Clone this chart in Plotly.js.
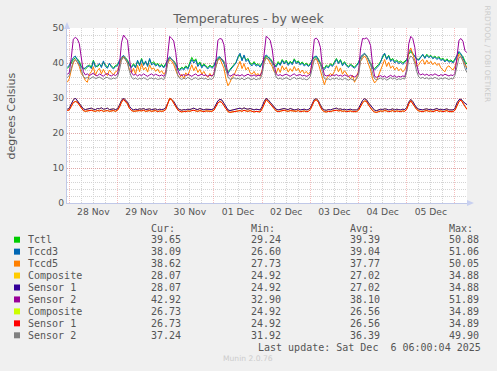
<!DOCTYPE html>
<html>
<head>
<meta charset="utf-8">
<script src="https://cdn.plot.ly/plotly-3.0.1.min.js"></script>
<style>
  html, body { margin: 0; padding: 0; background: #f0f0f0; }
  #chart { width: 497px; height: 371px; }
</style>
</head>
<body>
<div id="chart"></div>
<script>
// ---------- DATA (hourly samples, starting 2025-11-27 23:00) ----------
const startTime = '2025-11-27T23:00:00Z';

const tctl = [38.5,
  39.0,40.0,41.0,41.5,41.2,40.5,39.0,38.6,38.2,38.8,39.5,38.7,40.8,39.2,38.9,39.6,39.1,40.2,39.4,38.8,39.7,39.0,38.6,39.3,
  39.5,40.5,41.2,41.8,41.5,40.8,39.5,39.0,39.8,38.9,40.5,39.6,41.3,39.7,40.2,39.4,41.0,39.8,40.4,39.5,39.9,39.2,39.6,38.9,
  39.8,40.8,41.5,41.0,40.6,39.8,38.5,38.2,38.8,38.4,39.2,38.6,40.0,41.6,40.5,41.2,39.5,40.3,39.0,39.8,39.2,38.7,39.4,38.9,
  39.3,40.5,41.2,41.6,41.0,40.2,38.5,37.5,38.2,38.9,39.5,40.2,41.5,42.4,41.0,42.0,40.8,41.3,40.0,39.6,40.4,39.5,39.8,39.2,
  40.0,41.2,42.0,41.6,41.3,40.5,39.6,39.2,40.4,39.6,41.0,40.1,40.8,39.7,40.5,39.9,41.2,40.2,40.6,39.8,40.3,39.5,40.0,39.3,
  39.8,40.8,41.5,41.8,41.2,40.0,38.8,38.5,39.4,38.9,39.8,39.3,40.2,41.3,40.1,41.0,39.6,40.4,39.5,39.0,39.7,39.2,38.8,39.5,
  40.2,41.5,42.0,42.5,42.2,41.0,40.2,38.8,38.4,38.9,39.6,40.5,41.8,42.6,41.2,42.2,40.8,41.3,40.4,40.9,40.2,40.6,40.0,40.5,
  41.0,42.5,43.2,42.5,42.0,41.2,41.0,41.8,42.3,41.6,42.5,41.8,42.2,41.5,42.0,41.3,41.8,41.0,41.4,40.6,41.2,40.5,40.9,40.3,
  41.0,42.0,43.0,42.5,41.8,40.5,39.65];

const tccd3 = [38.8,
  39.3,40.5,41.5,42.0,41.0,40.2,38.8,38.3,38.6,39.2,39.0,38.4,40.5,38.8,39.3,39.9,38.7,40.6,39.0,38.5,40.0,38.8,38.3,39.0,
  39.2,40.8,41.5,42.2,41.2,40.5,39.2,38.7,39.5,38.6,40.8,39.2,41.0,39.3,40.6,39.0,41.3,39.4,40.0,39.1,39.6,38.8,39.3,38.6,
  39.5,41.0,41.8,41.2,40.3,39.5,38.2,37.8,38.5,38.0,38.9,38.2,39.6,41.0,40.0,40.8,39.0,39.9,38.6,39.5,38.8,38.3,39.1,38.5,
  39.0,40.8,41.6,41.8,40.8,40.0,38.0,37.0,37.9,38.5,39.2,40.0,41.8,42.8,40.6,42.3,40.4,41.0,39.6,39.2,40.0,39.1,39.5,38.8,
  39.8,41.5,42.3,41.8,41.0,40.2,39.3,38.9,40.0,39.3,40.7,39.7,40.5,39.3,40.2,39.5,40.9,39.8,40.3,39.4,40.0,39.1,39.7,39.0,
  39.5,41.0,41.8,42.0,41.0,39.7,38.5,38.1,39.0,38.6,39.5,39.0,39.9,41.0,39.8,40.7,39.2,40.1,39.2,38.7,39.4,38.9,38.5,39.2,
  40.0,41.8,42.3,42.8,42.0,40.7,39.8,38.4,38.0,38.6,39.2,40.2,42.0,42.8,41.0,42.0,40.4,41.0,40.0,40.6,39.8,40.2,39.6,40.1,
  40.8,42.8,43.6,42.8,41.7,41.0,40.8,41.5,42.5,41.3,42.2,41.5,42.0,41.2,41.7,41.0,41.5,40.7,41.1,40.3,40.9,40.2,40.5,40.0,
  40.8,42.2,43.3,42.6,41.5,40.0,38.09];

const tccd5 = [34.5,
  35.5,38.0,40.0,41.0,40.2,39.0,37.0,36.2,35.0,34.5,36.8,37.5,38.9,36.5,37.8,38.5,36.9,38.2,37.0,36.4,38.0,37.2,36.6,37.5,
  37.8,39.5,41.0,41.8,40.8,40.0,38.0,37.2,38.5,36.8,39.3,37.5,39.8,38.0,38.8,37.4,39.5,38.2,38.6,37.6,38.3,37.2,37.8,36.8,
  37.5,39.8,41.0,40.5,39.5,38.2,36.5,35.8,36.8,35.5,37.2,36.4,38.0,39.5,37.8,39.0,37.3,38.2,36.8,37.6,36.5,35.9,37.0,36.2,
  37.0,39.2,40.8,41.2,40.0,38.5,35.5,33.5,34.5,35.8,36.5,37.8,39.5,40.5,38.4,39.8,38.0,38.8,37.2,36.8,37.6,36.5,37.0,36.2,
  38.0,40.5,41.5,41.0,40.0,39.0,37.5,37.0,38.6,37.3,39.2,38.0,38.8,37.4,38.4,37.6,39.0,37.8,38.5,37.2,38.0,37.0,37.6,36.8,
  37.5,39.8,41.0,41.2,39.8,38.0,35.5,33.8,35.5,36.2,37.0,36.5,37.6,39.2,37.5,38.6,36.8,37.8,36.9,36.2,35.5,36.5,34.5,35.8,
  37.8,40.5,41.3,42.0,41.2,39.5,38.0,35.5,34.3,35.0,36.5,38.0,40.0,41.0,39.0,40.2,38.5,39.2,38.0,38.8,37.8,38.4,37.5,38.0,
  39.5,43.0,44.3,42.5,40.5,39.0,39.5,40.5,41.0,39.6,40.8,39.8,40.5,39.5,40.2,39.3,39.8,38.6,38.0,37.5,38.8,39.2,38.5,38.0,
  39.0,41.0,42.5,41.8,40.5,39.5,38.62];

// NVMe #1: Composite and Sensor 1 report identical values
const nvme1Sensor1 = [26.8,
  27.0,28.3,29.4,30.0,29.2,28.6,27.5,26.9,26.7,26.8,26.9,27.1,26.8,26.7,27.0,26.9,27.2,26.8,26.9,27.1,26.7,26.8,26.9,26.7,
  26.9,28.0,29.3,30.0,29.4,28.8,27.6,26.9,26.6,26.8,26.7,26.9,26.8,27.0,26.7,26.8,26.9,26.7,26.8,26.9,26.6,26.8,26.7,26.8,
  27.2,28.8,29.8,29.6,29.0,28.0,27.0,26.7,26.5,26.7,26.6,26.8,26.7,26.9,27.1,26.8,26.7,27.0,26.8,26.6,26.8,26.7,26.6,26.7,
  27.0,28.2,29.2,29.6,29.4,28.5,27.3,26.6,26.4,26.5,26.6,26.8,26.9,27.1,26.8,27.2,26.9,26.8,27.0,26.7,26.6,26.8,26.7,26.6,
  27.5,29.0,29.9,29.5,28.8,28.2,27.3,26.8,26.6,26.7,26.9,27.0,26.8,26.7,27.0,26.8,26.6,26.7,26.9,26.6,26.7,26.8,26.6,26.7,
  27.2,28.5,29.6,29.8,29.2,28.0,27.0,26.6,26.5,26.7,26.6,26.8,26.9,27.1,26.8,26.9,26.7,26.8,26.6,26.7,26.8,26.6,26.7,26.6,
  27.0,28.4,29.3,29.8,29.5,28.6,27.8,27.0,26.5,26.4,26.6,26.8,26.7,26.9,26.8,26.6,26.7,26.9,26.6,26.8,26.7,26.6,26.8,26.7,
  27.3,28.8,29.6,29.0,28.0,27.2,26.8,26.7,26.6,26.8,26.9,26.7,26.8,26.6,26.8,27.0,26.7,26.8,26.6,26.7,26.9,26.6,26.7,26.6,
  27.0,28.6,29.5,29.7,29.0,28.5,28.07];
const nvme1Composite = nvme1Sensor1;

const nvme1Sensor2 = [36.8,
  37.2,41.5,46.8,47.3,46.9,45.5,42.0,37.5,36.6,36.9,36.4,36.8,37.1,36.5,36.3,36.9,36.6,36.2,36.8,37.0,36.5,36.3,36.7,36.4,
  36.9,39.5,45.8,48.0,47.2,46.5,41.0,37.2,36.5,36.8,36.3,36.7,36.4,36.9,36.5,36.2,36.6,36.9,36.4,36.8,36.5,36.3,36.6,36.2,
  37.0,42.5,47.6,47.0,46.3,43.0,38.0,36.6,36.4,36.7,36.3,36.8,36.5,36.2,36.6,36.9,36.3,36.5,36.8,36.4,36.6,36.2,36.5,36.3,
  36.8,40.5,46.5,47.0,46.8,45.2,40.0,36.8,36.2,36.5,36.9,36.4,36.6,36.3,36.7,36.2,36.5,36.8,36.4,36.3,36.6,36.2,36.5,36.4,
  37.5,43.0,47.6,47.2,46.5,44.0,39.5,36.9,36.4,36.7,36.3,36.6,36.8,36.5,36.2,36.6,36.9,36.4,36.5,36.7,36.3,36.5,36.2,36.4,
  36.9,41.0,46.8,47.1,46.4,44.5,39.0,36.6,36.3,36.5,36.2,36.6,36.4,36.7,36.3,36.5,36.2,36.6,36.4,36.1,36.5,36.3,36.0,36.4,
  37.2,44.0,47.0,46.9,47.2,46.5,45.0,39.5,36.2,35.9,36.1,36.4,36.0,36.3,35.8,36.2,36.5,36.1,36.4,35.9,36.2,36.0,36.3,36.1,
  38.0,45.5,47.6,47.0,44.5,39.5,37.0,36.6,36.9,36.5,36.8,36.4,36.7,36.5,36.9,36.6,36.3,36.7,36.4,36.8,36.5,36.3,36.6,36.4,
  37.0,41.0,46.5,47.0,46.2,43.5,42.92];

// NVMe #2: Composite and Sensor 1 report identical values
const nvme2Sensor1 = [26.4,
  26.6,27.6,28.7,29.0,28.8,28.0,27.0,26.4,26.2,26.3,26.4,26.5,26.3,26.2,26.4,26.3,26.5,26.2,26.3,26.4,26.2,26.3,26.4,26.2,
  26.5,27.4,28.8,29.6,29.0,28.3,27.0,26.4,26.2,26.3,26.2,26.4,26.3,26.5,26.2,26.3,26.4,26.2,26.3,26.4,26.1,26.3,26.2,26.3,
  26.7,28.4,29.9,29.5,28.6,27.5,26.6,26.2,26.0,26.2,26.1,26.3,26.2,26.4,26.5,26.3,26.2,26.4,26.3,26.1,26.3,26.2,26.1,26.2,
  26.5,27.6,28.6,29.0,28.7,27.8,26.8,26.1,25.9,26.0,26.1,26.2,26.3,26.4,26.2,26.5,26.3,26.2,26.4,26.1,26.0,26.2,26.1,26.0,
  26.9,28.4,29.5,29.0,28.3,27.6,26.8,26.3,26.1,26.2,26.4,26.5,26.3,26.2,26.4,26.3,26.1,26.2,26.4,26.1,26.2,26.3,26.1,26.2,
  26.7,28.0,29.2,29.5,28.8,27.5,26.5,26.1,26.0,26.2,26.1,26.3,26.4,26.5,26.3,26.4,26.2,26.3,26.1,26.2,26.3,26.1,26.2,26.1,
  26.5,27.8,28.6,29.2,29.0,28.0,27.2,26.4,26.0,25.9,26.1,26.3,26.2,26.4,26.3,26.1,26.2,26.4,26.1,26.3,26.2,26.1,26.3,26.2,
  26.8,28.3,29.2,28.5,27.5,26.7,26.3,26.2,26.1,26.3,26.4,26.2,26.3,26.1,26.3,26.5,26.2,26.3,26.1,26.2,26.4,26.1,26.2,26.1,
  26.5,28.0,29.0,29.4,28.6,27.8,26.73];
const nvme2Composite = nvme2Sensor1;

const nvme2Sensor2 = [35.8,
  36.5,38.5,40.5,41.0,40.2,39.5,38.0,36.2,35.6,35.9,35.4,35.8,36.1,35.5,35.7,36.0,35.6,35.3,35.8,35.9,35.5,35.4,35.7,35.5,
  36.0,38.0,40.8,41.6,41.0,40.0,37.5,35.9,35.4,35.7,35.3,35.6,35.4,35.8,35.5,35.2,35.6,35.7,35.4,35.6,35.3,35.5,35.6,35.2,
  36.5,40.0,41.6,41.0,40.5,39.0,36.5,35.6,35.3,35.7,35.4,35.9,35.5,35.2,35.6,35.8,35.3,35.5,35.7,35.4,35.6,35.2,35.5,35.3,
  36.0,39.0,41.0,41.4,41.2,40.5,38.5,36.0,35.3,35.5,35.8,35.4,35.6,35.3,35.7,35.2,35.5,35.8,35.4,35.3,35.6,35.2,35.5,35.4,
  36.8,40.0,41.5,41.2,40.8,40.0,37.8,36.0,35.4,35.7,35.3,35.6,35.8,35.5,35.2,35.6,35.9,35.4,35.5,35.7,35.3,35.5,35.2,35.4,
  36.2,39.0,41.0,41.3,40.6,39.8,37.5,35.6,35.3,35.5,35.2,35.6,35.4,35.7,35.3,35.5,35.2,35.6,35.4,35.1,35.5,35.3,35.0,35.4,
  36.5,40.5,42.0,42.6,42.0,41.0,40.0,37.0,35.5,35.2,35.4,35.7,35.3,35.6,35.1,35.5,35.8,35.4,35.7,35.2,35.5,35.3,35.6,35.4,
  37.5,41.0,42.0,41.5,40.0,37.5,36.0,35.6,35.9,35.5,35.8,35.4,35.7,35.5,35.9,35.6,35.3,35.7,35.4,35.8,35.5,35.3,35.6,35.4,
  36.5,39.5,41.5,41.8,40.5,38.5,37.24];

// Legend table
const seriesNames  = ['Tctl','Tccd3','Tccd5','Composite','Sensor 1','Sensor 2','Composite','Sensor 1','Sensor 2'];
const seriesColors = ['#00CC00','#0066B3','#FF8000','#FFCC00','#330099','#990099','#CCFF00','#FF0000','#808080'];
const seriesData   = [tctl, tccd3, tccd5, nvme1Composite, nvme1Sensor1, nvme1Sensor2, nvme2Composite, nvme2Sensor1, nvme2Sensor2];
const curVals = ['39.65','38.09','38.62','28.07','28.07','42.92','26.73','26.73','37.24'];
const minVals = ['29.24','26.60','27.73','24.92','24.92','32.90','24.92','24.92','31.92'];
const avgVals = ['39.39','39.04','37.77','27.02','27.02','38.10','26.56','26.56','36.39'];
const maxVals = ['50.88','51.06','50.05','34.88','34.88','51.89','34.89','34.89','49.90'];
const colHeaders = ['Cur:','Min:','Avg:','Max:'];

const chartTitle = 'Temperatures - by week';
const yTitle = 'degrees Celsius';
const lastUpdate = 'Last update: Sat Dec\u00a0\u00a06 06:00:04 2025';
const yTickVals = [0,10,20,30,40,50];

// ---------- BUILD ----------
function pad(n){ return String(n).padStart(2,'0'); }
const t0 = Date.parse(startTime);
const times = tctl.map((_, i) => {
  const d = new Date(t0 + i * 3600e3);
  return d.getUTCFullYear() + '-' + pad(d.getUTCMonth()+1) + '-' + pad(d.getUTCDate()) + ' ' + pad(d.getUTCHours()) + ':00';
});

const traces = seriesData.map((arr, i) => ({
  type: 'scatter', mode: 'lines', x: times, y: arr, name: seriesNames[i],
  line: { color: seriesColors[i], width: 1 }, hoverinfo: 'skip'
}));

// pixel geometry of the plot area
const L = 67, R = 467, T = 28, B = 203;
const W = R - L, H = B - T;
const xp = px => (px - L) / W;
const yp = py => (B - py) / H;

const txtColor = '#555555';
const mono = 'DejaVu Sans Mono, monospace';
const annotations = [];
const shapes = [];

// y axis title
annotations.push({ xref:'paper', yref:'paper', x: xp(11), y: yp(115.5), text: yTitle, showarrow:false,
  textangle: -90, xanchor:'center', yanchor:'middle', font:{ family:'DejaVu Sans', size:11, color:txtColor } });
// side credit
annotations.push({ xref:'paper', yref:'paper', x: xp(487), y: yp(53.5), text: 'RRDTOOL / TOBI OETIKER', showarrow:false,
  textangle: 90, xanchor:'center', yanchor:'middle', font:{ family:'DejaVu Sans', size:7.5, color:'#cccccc' } });

// legend table
const colX = [149, 249, 348, 447];
colHeaders.forEach((h, j) => annotations.push({ xref:'paper', yref:'paper', x: xp(colX[j]), y: yp(228), text: h,
  showarrow:false, xanchor:'left', yanchor:'middle', font:{ family:mono, size:10, color:txtColor } }));
seriesNames.forEach((nm, i) => {
  const yc = 239.7 + 11.95 * i;
  shapes.push({ type:'rect', xref:'paper', yref:'paper', x0: xp(14), x1: xp(20), y0: yp(yc+3), y1: yp(yc-3),
    fillcolor: seriesColors[i], line:{ width:0 } });
  annotations.push({ xref:'paper', yref:'paper', x: xp(26), y: yp(yc), text: nm, showarrow:false,
    xanchor:'left', yanchor:'middle', font:{ family:mono, size:10, color:txtColor } });
  [curVals, minVals, avgVals, maxVals].forEach((col, j) => annotations.push({ xref:'paper', yref:'paper',
    x: xp(colX[j]), y: yp(yc), text: col[i], showarrow:false, xanchor:'left', yanchor:'middle',
    font:{ family:mono, size:10, color:txtColor } }));
});
annotations.push({ xref:'paper', yref:'paper', x: xp(483), y: yp(347.7), text: lastUpdate, showarrow:false,
  xanchor:'right', yanchor:'middle', font:{ family:mono, size:10, color:txtColor } });
annotations.push({ xref:'paper', yref:'paper', x: xp(248), y: yp(358.3), text: 'Munin 2.0.76', showarrow:false,
  xanchor:'center', yanchor:'middle', font:{ family:'DejaVu Sans', size:7.6, color:'#cccccc' } });

// axis arrows
const arrowCol = '#c8d0f0';
shapes.push({ type:'path', xref:'paper', yref:'paper', layer:'above',
  path: `M ${xp(64)} ${yp(29)} L ${xp(70)} ${yp(29)} L ${xp(67)} ${yp(22)} Z`, fillcolor: arrowCol, line:{ width:0 } });
shapes.push({ type:'path', xref:'paper', yref:'paper', layer:'above',
  path: `M ${xp(467)} ${yp(200)} L ${xp(467)} ${yp(206)} L ${xp(474)} ${yp(203)} Z`, fillcolor: arrowCol, line:{ width:0 } });

const majorGrid = 'rgba(235,110,110,0.45)';
const minorGrid = '#d4d4d4';

const layout = {
  width: 497, height: 371,
  margin: { l: L, r: 497 - R, t: T, b: 371 - B, pad: 0 },
  paper_bgcolor: '#f0f0f0', plot_bgcolor: '#ffffff',
  showlegend: false, hovermode: false,
  title: { text: chartTitle, x: 0.5, xref: 'container', xanchor: 'center', y: 1 - 19/371, yref: 'container', yanchor: 'middle',
    font: { family: 'DejaVu Sans', size: 12.5, color: '#606060' } },
  xaxis: {
    type: 'date', range: ['2025-11-27 22:52', '2025-12-06 06:00'],
    tick0: '2025-11-28 00:00', dtick: 86400000, ticklabelmode: 'period', tickformat: '%d %b',
    showgrid: true, gridcolor: majorGrid, griddash: '1px,1px', gridwidth: 1,
    minor: { dtick: 6*3600000, tick0: '2025-11-28 00:00', showgrid: true, gridcolor: minorGrid, griddash: '1px,1px', gridwidth: 1 },
    ticks: '', showline: true, linecolor: '#c0c8e8', linewidth: 1, zeroline: false,
    tickfont: { family: 'DejaVu Sans', size: 9.2, color: txtColor }, fixedrange: true
  },
  yaxis: {
    range: [0, 50], tickvals: yTickVals, ticktext: yTickVals.map(String),
    showgrid: true, gridcolor: majorGrid, griddash: '1px,1px', gridwidth: 1,
    minor: { dtick: 2, showgrid: true, gridcolor: minorGrid, griddash: '1px,1px', gridwidth: 1 },
    ticks: '', showline: true, linecolor: '#c0c8e8', linewidth: 1, zeroline: false,
    tickfont: { family: 'DejaVu Sans', size: 9.2, color: txtColor }, fixedrange: true
  },
  annotations: annotations,
  shapes: shapes
};

Plotly.newPlot('chart', traces, layout, { staticPlot: true, displayModeBar: false });
</script>
</body>
</html>
